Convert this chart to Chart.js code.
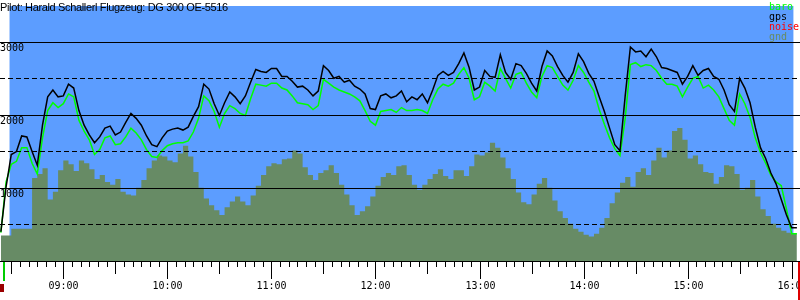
<!DOCTYPE html>
<html>
<head>
<meta charset="utf-8">
<script src="https://cdn.jsdelivr.net/npm/chart.js@4"></script>
<style>
  html, body { margin: 0; padding: 0; background: #fff; }
  canvas { display: block; }
</style>
</head>
<body>
<canvas id="flight" width="800" height="300"></canvas>
<script>
// sample times in minutes after midnight (3 min steps, 08:24 .. 16:03)
const times = [
  504,507,510,513,516,519,522,525,528,531,
  534,537,540,543,546,549,552,555,558,561,
  564,567,570,573,576,579,582,585,588,591,
  594,597,600,603,606,609,612,615,618,621,
  624,627,630,633,636,639,642,645,648,651,
  654,657,660,663,666,669,672,675,678,681,
  684,687,690,693,696,699,702,705,708,711,
  714,717,720,723,726,729,732,735,738,741,
  744,747,750,753,756,759,762,765,768,771,
  774,777,780,783,786,789,792,795,798,801,
  804,807,810,813,816,819,822,825,828,831,
  834,837,840,843,846,849,852,855,858,861,
  864,867,870,873,876,879,882,885,888,891,
  894,897,900,903,906,909,912,915,918,921,
  924,927,930,933,936,939,942,945,948,951,
  954,957,960,963
];

// altitudes in metres
const gps = [
  402,1019,1462,1502,1716,1703,1502,1314,1864,2253,
  2347,2253,2266,2427,2374,2065,1864,1730,1623,1703,
  1824,1851,1730,1770,1904,2025,1958,1864,1716,1596,
  1569,1690,1784,1810,1824,1797,1837,1985,2119,2427,
  2360,2159,1998,2172,2320,2253,2159,2266,2454,2628,
  2602,2588,2642,2642,2534,2534,2467,2387,2400,2347,
  2266,2333,2682,2615,2508,2534,2454,2481,2400,2360,
  2293,2092,2079,2266,2293,2240,2266,2333,2186,2253,
  2213,2293,2172,2347,2548,2602,2548,2588,2709,2856,
  2655,2347,2387,2615,2534,2521,2830,2588,2494,2709,
  2682,2575,2441,2333,2669,2883,2816,2669,2548,2454,
  2588,2843,2736,2575,2467,2253,2052,1824,1596,1515,
  2266,2937,2870,2883,2803,2910,2803,2655,2642,2615,
  2588,2427,2534,2682,2548,2615,2642,2534,2494,2347,
  2146,2052,2508,2374,2172,1837,1556,1408,1207,1059,
  845,630,456,456
];

const baro = [
  389,1086,1328,1368,1556,1556,1341,1193,1690,2065,
  2172,2106,2159,2293,2253,1931,1784,1663,1462,1529,
  1690,1716,1596,1609,1703,1824,1757,1663,1529,1435,
  1421,1515,1582,1609,1623,1623,1649,1770,1958,2266,
  2199,2052,1837,2025,2132,2092,2025,1998,2226,2427,
  2414,2400,2441,2441,2374,2347,2266,2172,2159,2146,
  2079,2132,2494,2441,2387,2347,2320,2293,2253,2199,
  2065,1918,1864,2052,2065,2079,2039,2106,2065,2065,
  2079,2065,2025,2213,2360,2427,2400,2441,2561,2655,
  2508,2213,2253,2454,2400,2333,2642,2508,2374,2561,
  2588,2441,2320,2240,2534,2682,2655,2534,2414,2347,
  2481,2682,2588,2454,2333,2079,1877,1690,1542,1448,
  1958,2695,2722,2669,2695,2682,2615,2508,2427,2427,
  2400,2253,2387,2508,2534,2374,2414,2347,2253,2092,
  1931,1864,2293,2159,1971,1690,1489,1341,1180,1086,
  1033,711,375,375
];

const noise = [];

const gnd = [
  349,349,443,443,443,443,1140,1193,1274,845,
  952,1247,1381,1328,1234,1381,1341,1261,1126,1180,
  1086,1046,1126,952,912,898,1006,1113,1274,1381,
  1448,1435,1381,1354,1475,1582,1435,1220,1006,858,
  764,697,630,737,818,885,818,764,898,1033,
  1180,1301,1341,1328,1395,1408,1515,1475,1287,1180,
  1113,1207,1247,1314,1207,1046,912,764,630,684,
  751,885,1033,1153,1207,1180,1301,1314,1180,1046,
  979,1046,1126,1193,1261,1167,1126,1247,1247,1167,
  1301,1462,1448,1489,1623,1556,1421,1274,1126,939,
  805,778,912,1059,1140,1006,831,684,590,510,
  443,402,362,335,375,456,590,791,939,1073,
  1153,1019,1220,1274,1180,1381,1556,1421,1515,1784,
  1824,1663,1408,1448,1328,1220,1207,1059,1153,1314,
  1301,1193,979,1006,1113,885,711,617,510,456,
  416,389,375,349
];

const xLabels = ['09:00', '10:00', '11:00', '12:00', '13:00', '14:00', '15:00', '16:00'];
const yLabels = [1000, 2000, 3000];
const title = 'Pilot: Harald Schallerl Flugzeug: DG 300 OE-5516';
const takeoff = '08:25';
const landing = '16:04';
const engineMark = '08:24';
const blueFrom = '08:29';
const blueTo = '16:01';

const toMin = s => {
  const [h, m] = s.split(':').map(Number);
  return h * 60 + m;
};
const pts = arr => arr.map((v, i) => ({x: times[i], y: v}));

const monoFont = '10px "DejaVu Sans Mono"';

// blue band behind the flight
const bgPlugin = {
  id: 'bg',
  beforeDraw(chart) {
    const {ctx, chartArea: a, scales: {x}} = chart;
    const x0 = x.getPixelForValue(toMin(blueFrom));
    const x1 = x.getPixelForValue(toMin(blueTo));
    ctx.save();
    ctx.fillStyle = '#5c9dff';
    ctx.fillRect(x0, a.top, x1 - x0, a.bottom - a.top);
    ctx.restore();
  }
};

// time ticks, markers, title and legend
const decorPlugin = {
  id: 'decor',
  afterDraw(chart) {
    const {ctx, chartArea: a, scales: {x}} = chart;
    const base = a.bottom;
    ctx.save();

    ctx.strokeStyle = '#000';
    ctx.lineWidth = 1;
    ctx.beginPath();
    for (let m = Math.ceil(x.min / 5) * 5; m <= x.max; m += 5) {
      const px = Math.round(x.getPixelForValue(m)) + 0.5;
      const len = m % 60 === 0 ? 18 : (m % 30 === 0 ? 13 : 6);
      ctx.moveTo(px, base);
      ctx.lineTo(px, base + len);
    }
    ctx.stroke();

    ctx.fillStyle = '#000';
    ctx.font = monoFont;
    ctx.textAlign = 'center';
    ctx.textBaseline = 'top';
    xLabels.forEach(l => {
      ctx.fillText(l, Math.round(x.getPixelForValue(toMin(l))) + 0.5, base + 20);
    });

    // takeoff / landing markers
    ctx.fillStyle = '#00cc00';
    ctx.fillRect(Math.round(x.getPixelForValue(toMin(takeoff))), base + 1, 2, 19);
    ctx.fillStyle = '#dd0000';
    ctx.fillRect(Math.round(x.getPixelForValue(toMin(landing))) - 1, base + 1, 3, 39);
    ctx.fillStyle = '#990000';
    ctx.fillRect(Math.round(x.getPixelForValue(toMin(engineMark))) - 1, base + 23, 4, 8);

    // title
    ctx.fillStyle = '#000';
    ctx.textAlign = 'left';
    ctx.font = '11px "Liberation Sans"';
    ctx.letterSpacing = '-0.35px';
    ctx.fillText(title, 0, 2);
    ctx.letterSpacing = '0px';

    // legend
    ctx.font = monoFont;
    chart.data.datasets.forEach((ds, i) => {
      ctx.fillStyle = ds.borderColor;
      ctx.fillText(ds.label, 769, 2 + i * 10);
    });

    ctx.restore();
  }
};

const chart = new Chart(document.getElementById('flight'), {
  type: 'line',
  data: {
    datasets: [
      { label: 'baro', data: pts(baro), borderColor: '#00ff00', borderWidth: 1.5, order: 2 },
      { label: 'gps', data: pts(gps), borderColor: '#000000', borderWidth: 1.5, order: 1 },
      { label: 'noise', data: pts(noise), borderColor: '#ff0000', borderWidth: 1.5, order: 3 },
      { label: 'gnd', data: pts(gnd), borderColor: '#678b65', backgroundColor: '#678b65',
        borderWidth: 0, fill: 'origin', stepped: true, order: 4 }
    ]
  },
  options: {
    responsive: false,
    animation: false,
    layout: { padding: { left: 0, right: 0, top: 0, bottom: 39 } },
    elements: { point: { radius: 0 }, line: { tension: 0 } },
    plugins: { legend: { display: false }, tooltip: { enabled: false } },
    scales: {
      x: {
        type: 'linear',
        display: false,
        min: 503.5,
        max: 964.8
      },
      y: {
        min: 0,
        max: 3500,
        z: 1,
        afterFit: s => { s.width = 0; },
        ticks: {
          stepSize: 500,
          mirror: true,
          padding: 0,
          labelOffset: 6,
          color: '#000',
          font: { family: 'DejaVu Sans Mono', size: 10 },
          callback: v => yLabels.includes(v) ? String(v) : ''
        },
        grid: {
          z: 1,
          drawTicks: false,
          lineWidth: 1,
          color: c => (c.tick && c.tick.value >= 3500) ? 'rgba(0,0,0,0)' : '#000'
        },
        border: {
          display: false,
          dash: c => (c.tick && c.tick.value % 1000) ? [5, 3] : []
        }
      }
    }
  },
  plugins: [bgPlugin, decorPlugin]
});
</script>
</body>
</html>
